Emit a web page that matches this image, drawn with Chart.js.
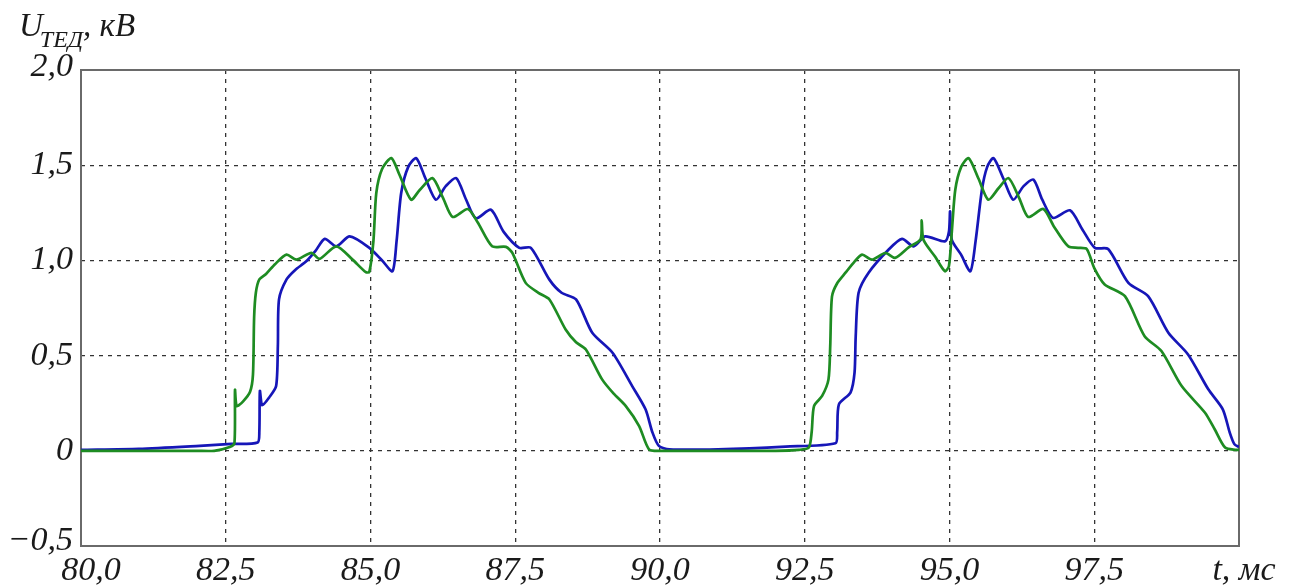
<!DOCTYPE html>
<html>
<head>
<meta charset="utf-8">
<script src="https://cdn.jsdelivr.net/npm/chart.js@4/dist/chart.umd.min.js"></script>
<style>
  html, body { margin:0; padding:0; background:#fff; }
  #wrap { width:1290px; height:588px; }
</style>
</head>
<body>
<div id="wrap"><canvas id="plot" width="1290" height="588"></canvas></div>
<script>
/* time ticks (ms) and voltage ticks (kV) */
const xTicks = [80, 82.5, 85, 87.5, 90, 92.5, 95, 97.5];
const xTickLabels = ["80,0","82,5","85,0","87,5","90,0","92,5","95,0","97,5"];
const yTicks = [2, 1.5, 1, 0.5, 0, -0.5];
const yTickLabels = ["2,0","1,5","1,0","0,5","0","\u22120,5"];

/* green trace */
const greenT = [80,81,82,82.3,82.57,82.65,82.66,82.69,82.8,82.92,82.97,82.99,83.02,83.08,83.2,83.35,83.55,83.72,83.98,84.12,84.41,84.69,84.92,84.98,85.05,85.1,85.2,85.36,85.5,85.7,85.85,86.07,86.25,86.42,86.68,86.85,87.1,87.34,87.45,87.68,87.9,88.09,88.37,88.55,88.72,89,89.2,89.41,89.64,89.81,90,91,92,92.4,92.57,92.62,92.66,92.8,92.91,92.94,92.97,93.06,93.2,93.35,93.49,93.66,93.89,94.06,94.3,94.5,94.52,94.55,94.75,94.92,94.99,95.04,95.1,95.2,95.33,95.5,95.67,95.85,96.02,96.2,96.36,96.62,96.8,97.05,97.22,97.37,97.5,97.68,98.03,98.37,98.66,99.01,99.41,99.58,99.76,99.95,100];
const greenU = [0,0,0,0,0.02,0.04,0.32,0.235,0.26,0.31,0.4,0.7,0.83,0.9,0.93,0.98,1.03,1.004,1.04,1.008,1.074,1.004,0.938,0.94,1.1,1.354,1.48,1.537,1.45,1.319,1.37,1.432,1.33,1.228,1.27,1.2,1.074,1.071,1.039,0.882,0.83,0.795,0.637,0.57,0.532,0.375,0.3,0.235,0.13,0.008,0,0,0,0.005,0.017,0.1,0.235,0.288,0.375,0.55,0.81,0.88,0.934,0.99,1.03,1.004,1.039,1.013,1.07,1.11,1.21,1.108,1.02,0.943,0.97,1.15,1.371,1.49,1.537,1.43,1.319,1.38,1.432,1.33,1.228,1.27,1.18,1.074,1.066,1.06,0.96,0.874,0.812,0.602,0.524,0.34,0.201,0.113,0.017,0.005,0.005];

/* blue trace */
const blueT = [80,81,82.05,82.6,83.05,83.08,83.09,83.13,83.25,83.37,83.4,83.42,83.55,83.7,83.89,84.05,84.21,84.41,84.64,84.98,85.2,85.38,85.45,85.53,85.65,85.79,85.95,86.13,86.3,86.48,86.65,86.82,87.08,87.3,87.57,87.77,88.09,88.3,88.55,88.83,89.18,89.52,89.75,89.87,89.98,90.16,91,92.17,93.03,93.06,93.09,93.29,93.36,93.38,93.43,93.6,93.95,94.18,94.38,94.58,94.92,94.99,95.01,95.04,95.2,95.36,95.45,95.56,95.65,95.76,95.93,96.1,96.28,96.45,96.6,96.79,97.08,97.3,97.51,97.74,98.09,98.43,98.78,99.12,99.47,99.72,99.84,99.92,100];
const blueU = [0.005,0.01,0.026,0.036,0.044,0.1,0.314,0.239,0.28,0.34,0.55,0.795,0.9,0.95,0.995,1.05,1.113,1.074,1.126,1.066,1,0.943,1.1,1.354,1.49,1.537,1.43,1.319,1.39,1.432,1.32,1.221,1.266,1.15,1.066,1.066,0.899,0.83,0.795,0.62,0.515,0.34,0.218,0.096,0.026,0.008,0.008,0.022,0.04,0.1,0.244,0.306,0.41,0.6,0.83,0.934,1.057,1.113,1.074,1.126,1.1,1.15,1.257,1.108,1.03,0.943,1.1,1.371,1.49,1.537,1.43,1.319,1.39,1.424,1.32,1.223,1.263,1.16,1.066,1.06,0.882,0.812,0.62,0.506,0.323,0.218,0.096,0.035,0.02];

const toPts = (ts, us) => ts.map((t, i) => ({x: t, y: us[i]}));

const FONT = '"Liberation Serif", "Times New Roman", serif';

/* frame + hand-set tick labels and axis titles */
const decor = {
  id: "decor",
  beforeDatasetsDraw(chart) {
    const {ctx, chartArea: a} = chart;
    ctx.save();
    ctx.strokeStyle = "#6a6a6a";
    ctx.lineWidth = 2;
    ctx.strokeRect(a.left, a.top, a.right - a.left, a.bottom - a.top);
    ctx.restore();
  },
  afterDraw(chart) {
    const {ctx, scales:{x, y}} = chart;
    ctx.save();
    ctx.fillStyle = "#1a1a1a";
    ctx.font = "italic 34px " + FONT;
    ctx.textBaseline = "middle";

    ctx.textAlign = "right";
    yTicks.forEach((v, i) => {
      let py = y.getPixelForValue(v);
      if (i === 0) py -= 3;
      if (i === yTicks.length - 1) py -= 5;
      ctx.fillText(yTickLabels[i], 73, py);
    });

    ctx.textAlign = "center";
    xTicks.forEach((v, i) => {
      let px = x.getPixelForValue(v);
      if (i === 0) px += 10;
      ctx.fillText(xTickLabels[i], px, 571);
    });
    ctx.fillText("t, мс", 1244, 571);

    // y title: U with subscript ТЕД
    ctx.textAlign = "left";
    ctx.textBaseline = "alphabetic";
    ctx.font = "italic 33px " + FONT;
    ctx.fillText("U", 19, 36);
    const uw = ctx.measureText("U").width;
    ctx.font = "italic 24px " + FONT;
    ctx.fillText("ТЕД", 19 + uw - 3, 47);
    const sw = ctx.measureText("ТЕД").width;
    ctx.font = "italic 33px " + FONT;
    ctx.fillText(", кВ", 19 + uw + sw - 3, 36);
    ctx.restore();
  }
};

new Chart(document.getElementById("plot"), {
  type: "line",
  data: {
    datasets: [
      {data: toPts(greenT, greenU), borderColor: "#1e8c22", borderWidth: 2.7,
       pointRadius: 0, tension: 0.25, fill: false},
      {data: toPts(blueT, blueU), borderColor: "#1616b8", borderWidth: 2.7,
       pointRadius: 0, tension: 0.25, fill: false}
    ]
  },
  options: {
    responsive: false,
    animation: false,
    events: [],
    layout: {padding: {left: 81, right: 51, top: 70, bottom: 42}},
    plugins: {legend: {display: false}, tooltip: {enabled: false}},
    scales: {
      x: {type: "linear", min: 80, max: 100,
          ticks: {display: false, stepSize: 2.5},
          grid: {drawTicks: false, color: "#333", lineWidth: 1.3},
          border: {display: false, dash: [4, 5]}},
      y: {type: "linear", min: -0.5, max: 2,
          ticks: {display: false, stepSize: 0.5},
          grid: {drawTicks: false, color: "#333", lineWidth: 1.3},
          border: {display: false, dash: [4, 5]}}
    }
  },
  plugins: [decor]
});
</script>
</body>
</html>
